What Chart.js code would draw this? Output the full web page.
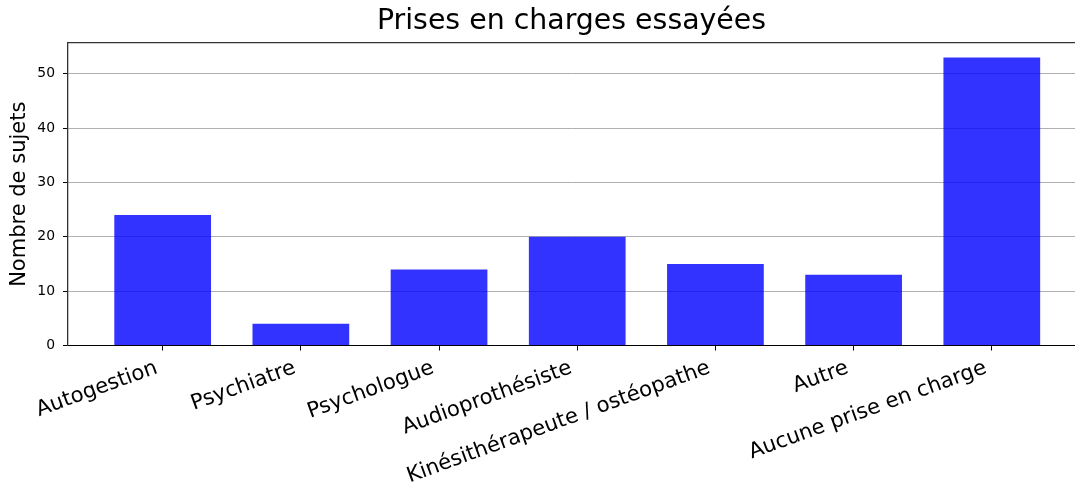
<!DOCTYPE html>
<html>
<head>
<meta charset="utf-8">
<script src="https://cdn.jsdelivr.net/npm/chart.js@4.4.1/dist/chart.umd.min.js"></script>
<style>
html, body { margin: 0; padding: 0; background: #fff; }
#wrap { width: 1075px; height: 484px; }
</style>
</head>
<body>
<div id="wrap"><canvas id="c" width="1075" height="484"></canvas></div>
<script>
const categories = ["Autogestion", "Psychiatre", "Psychologue", "Audioprothésiste", "Kinésithérapeute / ostéopathe", "Autre", "Aucune prise en charge"];
const counts = [24, 4, 14, 20, 15, 13, 53];
const yTicks = [0, 10, 20, 30, 40, 50];
const titleText = "Prises en charges essayées";
const yLabel = "Nombre de sujets";

const FONT = "'DejaVu Sans', sans-serif";

new Chart(document.getElementById('c'), {
  type: 'bar',
  data: {
    datasets: [{
      data: counts.map((v, i) => ({ x: i, y: v })),
      backgroundColor: 'rgba(0,0,255,0.8)',
      borderWidth: 0,
      barPercentage: 0.7,
      categoryPercentage: 1.0
    }]
  },
  options: {
    responsive: false,
    animation: false,
    devicePixelRatio: 1,
    layout: { padding: 0 },
    plugins: {
      legend: { display: false },
      tooltip: { enabled: false },
      title: {
        display: true,
        fullSize: false,
        text: titleText,
        color: '#000',
        font: { family: FONT, size: 28.4, weight: 'normal', lineHeight: 1.2 },
        padding: { top: 4.6, bottom: 4.3 }
      }
    },
    scales: {
      x: {
        type: 'linear',
        position: 'bottom',
        offset: false,
        min: -0.685,
        max: 6.602,
        afterBuildTicks: (s) => { s.ticks = categories.map((c, i) => ({ value: i })); },
        afterFit: (s) => { s.height = 138.5; },
        grid: { display: true, offset: false, drawOnChartArea: false, drawTicks: true, tickLength: 5, tickColor: '#000', tickWidth: 1 },
        border: { display: true, color: '#000', width: 1.1 },
        ticks: {
          autoSkip: false,
          minRotation: 20,
          maxRotation: 20,
          padding: 5,
          labelOffset: -6,
          color: '#000',
          font: { family: FONT, size: 21.2 },
          callback: (v) => categories[v]
        }
      },
      x2: {
        type: 'linear',
        position: 'top',
        min: 0, max: 1,
        afterFit: (s) => { s.height = 0; },
        grid: { display: false, drawTicks: false },
        border: { display: true, color: '#333', width: 1.3 },
        ticks: { display: false }
      },
      y: {
        type: 'linear',
        position: 'left',
        min: 0,
        max: 55.65,
        afterBuildTicks: (s) => { s.ticks = yTicks.map(v => ({ value: v })); },
        afterFit: (s) => { s.width = 68; },
        grid: { display: true, color: '#b0b0b0', lineWidth: 1, drawTicks: true, tickLength: 5, tickColor: '#000', tickWidth: 1 },
        border: { display: true, color: '#333', width: 1.3 },
        ticks: {
          padding: 8,
          color: '#000',
          font: { family: FONT, size: 13.9 }
        },
        title: {
          display: true,
          text: yLabel,
          color: '#000',
          font: { family: FONT, size: 21, lineHeight: 1.2 },
          padding: { top: 7.2, bottom: 0 }
        }
      }
    }
  }
});
</script>
</body>
</html>
